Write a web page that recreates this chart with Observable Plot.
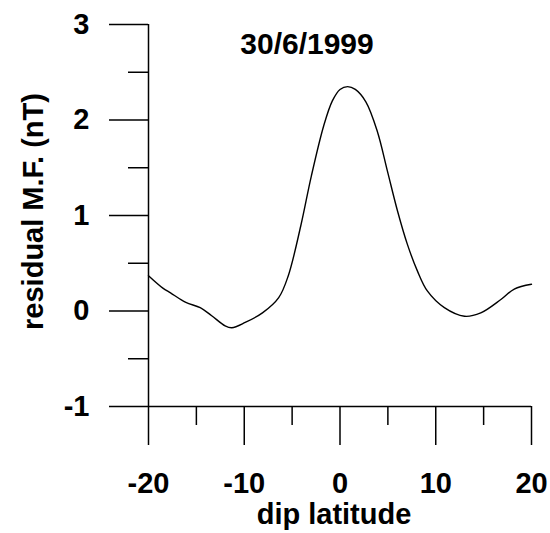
<!DOCTYPE html>
<html>
<head>
<meta charset="utf-8">
<script src="https://cdn.jsdelivr.net/npm/d3@7"></script>
<script src="https://cdn.jsdelivr.net/npm/@observablehq/plot@0.6"></script>
<style>
  html, body { margin: 0; padding: 0; background: #fff; }
  #chart svg { display: block; }
</style>
</head>
<body>
<div id="chart"></div>
<script>
// Data
const dipLatitude = [-20, -18.5, -17.7, -16.1, -14.6, -13.4, -12.0, -11.3, -9.9, -8.1, -6.4, -5.4, -4.1, -3.0, -1.7, -0.8, 0, 0.8, 1.6, 2.7, 3.9, 4.94, 6.0, 7.03, 8.08, 9.12, 10.9, 13.0, 14.7, 16.8, 18.2, 20];
const residualMF = [0.37, 0.24, 0.19, 0.09, 0.035, -0.05, -0.155, -0.175, -0.12, -0.02, 0.14, 0.37, 0.89, 1.41, 1.94, 2.2, 2.32, 2.35, 2.32, 2.19, 1.88, 1.47, 1.05, 0.70, 0.42, 0.21, 0.035, -0.055, -0.02, 0.12, 0.23, 0.28];

const xDomain = [-20, 20];
const yDomain = [-1, 3];
const xMajorTicks = [-20, -10, 0, 10, 20];
const xMinorTicks = [-15, -5, 5, 15];
const yMajorTicks = [-1, 0, 1, 2, 3];
const yMinorTicks = [-0.5, 0.5, 1.5, 2.5];
const titleText = "30/6/1999";
const xLabel = "dip latitude";
const yLabel = "residual M.F. (nT)";

const data = dipLatitude.map((x, i) => ({x, y: residualMF[i]}));
const font = "Liberation Sans, Arial, Helvetica, sans-serif";
const fmt = d => String(d);

const chart = Plot.plot({
  width: 550,
  height: 533,
  marginTop: 24,
  marginRight: 19,
  marginBottom: 127,
  marginLeft: 148,
  style: {fontFamily: font, fontWeight: "bold", background: "#fff", color: "#000"},
  x: {domain: xDomain},
  y: {domain: yDomain},
  marks: [
    Plot.ruleX([xDomain[0]], {y1: yDomain[0], y2: yDomain[1], stroke: "#000", strokeWidth: 1.5}),
    Plot.ruleY([yDomain[0]], {x1: xDomain[0], x2: xDomain[1], stroke: "#000", strokeWidth: 1.5}),
    Plot.axisY({ticks: yMajorTicks, tickSize: 39, tickPadding: 20, tickFormat: fmt, fontSize: 29, fontFamily: font, fontWeight: "bold", strokeWidth: 1.5, label: null}),
    Plot.axisY({ticks: yMinorTicks, tickSize: 20, tickFormat: () => "", strokeWidth: 1.5, label: null}),
    Plot.axisX({ticks: xMajorTicks, tickSize: 39, tickPadding: 27, tickFormat: fmt, fontSize: 29, fontFamily: font, fontWeight: "bold", strokeWidth: 1.5, label: null}),
    Plot.axisX({ticks: xMinorTicks, tickSize: 19, tickFormat: () => "", strokeWidth: 1.5, label: null}),
    Plot.line(data, {x: "x", y: "y", curve: "catmull-rom", stroke: "#000", strokeWidth: 1.4}),
    Plot.text([titleText], {frameAnchor: "top", textAnchor: "middle", lineAnchor: "middle", dx: -33, dy: 20, fontSize: 30, fontWeight: "bold", fontFamily: font, fill: "#000"}),
    Plot.text([xLabel], {frameAnchor: "bottom", textAnchor: "middle", lineAnchor: "middle", dx: -6, dy: 108, fontSize: 29, fontWeight: "bold", fontFamily: font, fill: "#000"}),
    Plot.text([yLabel], {frameAnchor: "left", textAnchor: "middle", lineAnchor: "middle", rotate: -90, dx: -115, dy: -4, fontSize: 29, fontWeight: "bold", fontFamily: font, fill: "#000"})
  ]
});
document.getElementById("chart").appendChild(chart);
</script>
</body>
</html>
